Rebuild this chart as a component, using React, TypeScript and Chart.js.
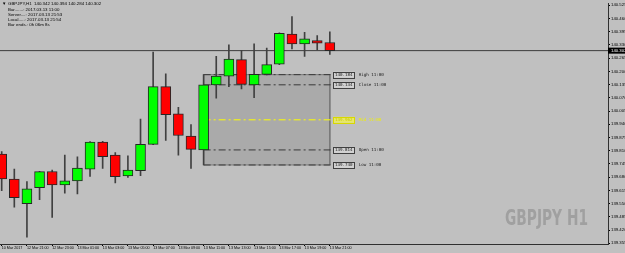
import { useEffect, useRef } from 'react';
import { Chart, registerables } from 'chart.js';

Chart.register(...registerables);

// ---- data ----
const symbolTitle = 'GBPJPY,H1';
const watermarkText = 'GBPJPY H1';
const headerLines = [
  'Bar.......: 2017.03.13 11:00',
  'Server....: 2017.03.13 21:53',
  'Local.....: 2017.03.13 21:54',
  'Bar ends.: 0h 06m 8s',
];
const timeLabels = [
  '10 Mar 2017', '12 Mar 21:00', '12 Mar 23:00', '13 Mar 01:00', '13 Mar 03:00',
  '13 Mar 05:00', '13 Mar 07:00', '13 Mar 09:00', '13 Mar 11:00', '13 Mar 13:00',
  '13 Mar 15:00', '13 Mar 17:00', '13 Mar 19:00', '13 Mar 21:00',
];
const labelBarIndices = [0, 2, 4, 6, 8, 10, 12, 14, 16, 18, 20, 22, 24, 26];
const opens = [139.793, 139.671, 139.550, 139.628, 139.708, 139.642, 139.662, 139.720, 139.853, 139.789, 139.686, 139.712, 139.841, 140.125, 139.992, 139.882, 139.814, 140.133, 140.177, 140.258, 140.133, 140.185, 140.235, 140.384, 140.335, 140.352, 140.342];
const highs = [139.806, 139.720, 139.658, 139.709, 139.715, 139.789, 139.780, 139.855, 139.856, 139.801, 139.785, 139.966, 140.295, 140.188, 140.023, 139.939, 140.184, 140.274, 140.331, 140.303, 140.335, 140.315, 140.389, 140.470, 140.392, 140.376, 140.394];
const lows = [139.614, 139.533, 139.385, 139.569, 139.482, 139.601, 139.598, 139.684, 139.723, 139.652, 139.679, 139.687, 139.840, 139.861, 139.788, 139.723, 139.740, 140.068, 140.125, 140.114, 140.071, 140.183, 140.233, 140.311, 140.274, 140.306, 140.284];
const closes = [139.671, 139.579, 139.623, 139.707, 139.642, 139.662, 139.725, 139.853, 139.781, 139.683, 139.715, 139.841, 140.125, 139.987, 139.885, 139.817, 140.134, 140.177, 140.260, 140.136, 140.185, 140.233, 140.387, 140.335, 140.360, 140.339, 140.302];
const priceTicks = [139.355, 139.420, 139.485, 139.550, 139.615, 139.680, 139.745, 139.810, 139.875, 139.940, 140.005, 140.070, 140.135, 140.200, 140.265, 140.330, 140.395, 140.460, 140.525];
const bidPrice = 140.302;
const levelBarIndex = 16; // 13 Mar 11:00 bar
const levelNames = ['High 11:00', 'Close 11:00', 'Mid 11:00', 'Open 11:00', 'Low 11:00'];
const levelValues = [140.184, 140.134, 139.962, 139.814, 139.740];

// ---- derived ----
const lastIndex = opens.length - 1;
const levelEnd = lastIndex + 0.25;
const boxHigh = levelValues[0];
const boxLow = levelValues[4];

const SMALL = '"Liberation Sans", sans-serif';

export default function App() {
  const ref = useRef<HTMLCanvasElement | null>(null);

  useEffect(() => {
    document.body.style.margin = '0';
    const canvas = ref.current;
    if (!canvas) return;

    const bgPlugin = {
      id: 'bg',
      beforeDraw(chart: any) {
        const { ctx, width, height } = chart;
        ctx.save();
        ctx.fillStyle = '#c0c0c0';
        ctx.fillRect(0, 0, width, height);
        ctx.restore();
      },
      beforeDatasetsDraw(chart: any) {
        const { ctx, chartArea } = chart;
        ctx.save();
        ctx.font = 'bold 22px "DejaVu Sans", sans-serif';
        const w = ctx.measureText(watermarkText).width;
        const targetW = 83;
        ctx.translate(chartArea.right - 20 - targetW, chartArea.bottom - 19);
        ctx.scale(targetW / w, 1);
        ctx.fillStyle = '#a0a0a0';
        ctx.textBaseline = 'alphabetic';
        ctx.textAlign = 'left';
        ctx.fillText(watermarkText, 0, 0);
        ctx.restore();
      },
      afterDraw(chart: any) {
        const { ctx, chartArea, scales, width } = chart;
        const ys = scales.y;
        const xs = scales.x;
        ctx.save();
        // header
        ctx.fillStyle = '#000';
        ctx.textBaseline = 'middle';
        ctx.textAlign = 'left';
        ctx.font = '4.4px "Liberation Sans", sans-serif';
        ctx.fillText('▼', 2, 4);
        ctx.fillText(symbolTitle + '  ' + [opens[lastIndex], highs[lastIndex], lows[lastIndex], closes[lastIndex]].map((v) => v.toFixed(3)).join(' '), 8, 4);
        headerLines.forEach((t, i) => ctx.fillText(t, 8, 9.5 + i * 5));

        // bid price box
        const py = ys.getPixelForValue(bidPrice);
        ctx.fillStyle = '#000';
        ctx.fillRect(chartArea.right, py - 3, width - chartArea.right, 6);
        ctx.fillStyle = '#fff';
        ctx.font = '4.3px ' + SMALL;
        ctx.fillText(bidPrice.toFixed(3), chartArea.right + 3, py + 0.3);

        // level labels
        const lx = xs.getPixelForValue(levelEnd);
        levelValues.forEach((v, i) => {
          const y = ys.getPixelForValue(v);
          const isMid = i === 2;
          const txt = v.toFixed(3);
          ctx.font = '4.2px "DejaVu Sans Mono", monospace';
          const tw = ctx.measureText(txt).width;
          ctx.fillStyle = isMid ? '#e8e86a' : '#d2d2d2';
          ctx.fillRect(lx, y - 3, tw + 4, 6);
          ctx.strokeStyle = isMid ? '#d8d800' : '#404040';
          ctx.lineWidth = 1;
          ctx.strokeRect(Math.round(lx) + 0.5, Math.round(y - 3) + 0.5, Math.round(tw + 3), 6);
          ctx.fillStyle = isMid ? '#c8c800' : '#202020';
          ctx.fillText(txt, lx + 2, y + 0.3);
          ctx.fillStyle = isMid ? '#f0f000' : '#202020';
          ctx.fillText(levelNames[i], lx + tw + 8, y + 0.3);
        });
        ctx.restore();
      },
    };

    const idx = opens.map((_, i) => i);
    const bodyColors = idx.map((i) => (closes[i] >= opens[i] ? '#00ff00' : '#ff0000'));

    const levelDatasets = levelValues.map((v, i) => ({
      type: 'line' as const,
      data: [{ x: levelBarIndex, y: v }, { x: levelEnd, y: v }],
      borderColor: i === 2 ? '#ffff00' : '#3a3a3a',
      borderWidth: 1,
      borderDash: [7, 3, 2, 3],
      pointRadius: 0,
      fill: false,
      order: 3,
    }));

    const chart = new Chart(canvas, {
      type: 'bar',
      data: {
        datasets: [
          {
            type: 'bar',
            data: idx.map((i) => ({ x: i, y: [opens[i], closes[i]] })),
            backgroundColor: bodyColors,
            borderColor: '#262626',
            borderWidth: 1,
            borderSkipped: false,
            barThickness: 10,
            grouped: false,
            order: 0,
          } as any,
          {
            type: 'bar',
            data: idx.map((i) => ({ x: i, y: [lows[i], highs[i]] })),
            backgroundColor: '#404040',
            borderWidth: 0,
            barThickness: 1,
            grouped: false,
            order: 1,
          } as any,
          {
            type: 'line',
            data: [{ x: -10, y: bidPrice }, { x: 100, y: bidPrice }],
            borderColor: '#3c3c3c',
            borderWidth: 1,
            pointRadius: 0,
            fill: false,
            order: 2,
          } as any,
          ...levelDatasets,
          {
            type: 'line',
            data: [
              { x: levelBarIndex, y: boxLow },
              { x: levelBarIndex, y: boxHigh },
              { x: lastIndex, y: boxHigh },
              { x: lastIndex, y: boxLow },
              { x: levelBarIndex, y: boxLow },
            ],
            borderColor: '#7a7a7a',
            borderWidth: 1,
            backgroundColor: '#aaaaaa',
            fill: 'shape',
            pointRadius: 0,
            order: 5,
          } as any,
        ],
      },
      options: {
        animation: false,
        responsive: false,
        maintainAspectRatio: false,
        events: [],
        layout: { padding: { top: 1, left: 0, right: 0, bottom: 0 } },
        plugins: {
          legend: { display: false },
          tooltip: { enabled: false },
          title: { display: false },
        },
        scales: {
          x: {
            type: 'linear',
            min: -0.134,
            max: 48.04,
            offset: false,
            grid: { display: true, drawOnChartArea: false, drawTicks: true, tickLength: 2, color: '#000', offset: false },
            border: { display: true, color: '#303030' },
            ticks: {
              autoSkip: false,
              maxRotation: 0,
              align: 'start',
              padding: 0,
              color: '#000',
              font: { size: 3.7, family: SMALL },
              callback: (_v: any, i: number) => timeLabels[i],
            },
            afterBuildTicks: (s: any) => {
              s.ticks = labelBarIndices.map((v) => ({ value: v }));
            },
            afterFit: (s: any) => {
              s.height = 9;
            },
          } as any,
          y: {
            type: 'linear',
            position: 'right',
            min: 139.3516,
            max: 140.5333,
            grid: { display: true, drawOnChartArea: false, drawTicks: true, tickLength: 2, color: '#000' },
            border: { display: true, color: '#303030' },
            ticks: {
              padding: 1,
              color: '#000',
              font: { size: 4.3, family: SMALL },
              callback: (v: any) => Number(v).toFixed(3),
            },
            afterBuildTicks: (s: any) => {
              s.ticks = priceTicks.map((v) => ({ value: v }));
            },
            afterFit: (s: any) => {
              s.width = 17;
            },
          } as any,
        },
      },
      plugins: [bgPlugin],
    });

    return () => chart.destroy();
  }, []);

  return <canvas ref={ref} width={625} height={253} style={{ display: 'block' }} />;
}
